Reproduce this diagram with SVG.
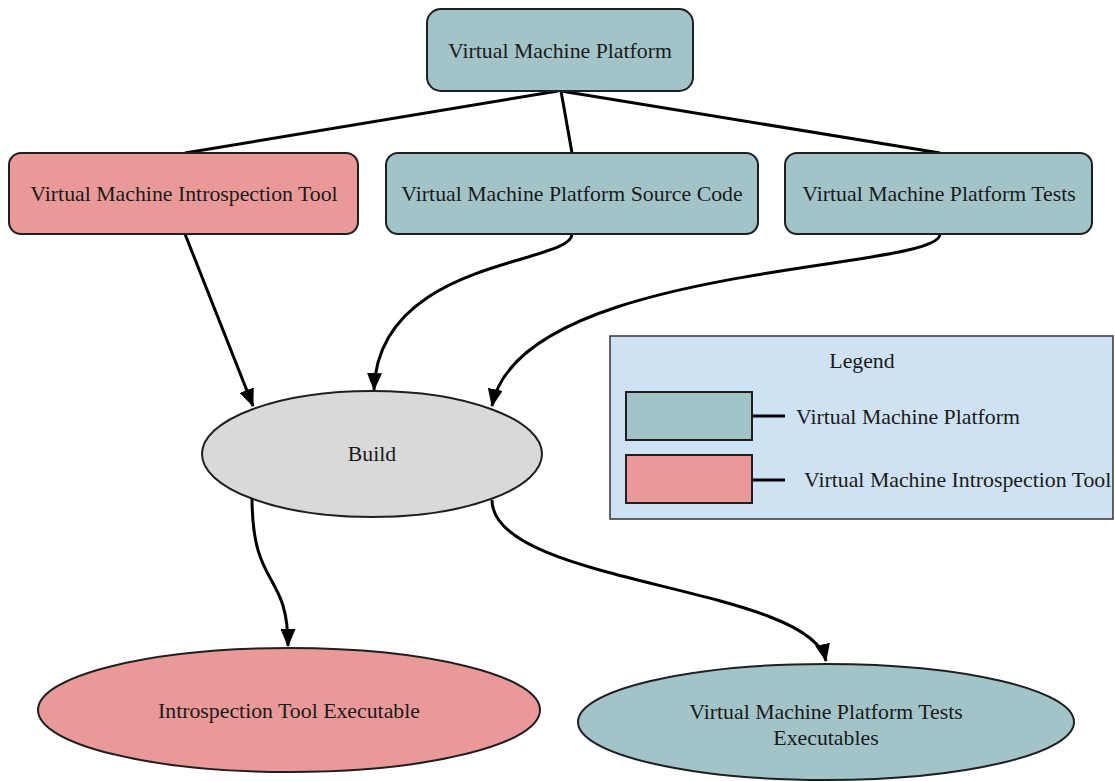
<svg xmlns="http://www.w3.org/2000/svg" width="1115" height="781" viewBox="0 0 1115 781">
  <style>
    text { font-family: "Liberation Serif", "Times New Roman", serif; font-size: 21.8px; fill: #1a1a1a; text-anchor: middle; dominant-baseline: central; }
    .node { stroke: #1f1f1f; stroke-width: 2; }
    .teal { fill: #a2c4c9; }
    .pink { fill: #ea9999; }
    .gray { fill: #d9d9d9; }
    .edge { fill: none; stroke: #000; stroke-width: 3; }
    .arrow { marker-end: url(#head); }
    .legend-box { fill: #cfe2f3; stroke: #333; stroke-width: 1.5; }
    .legend-text { text-anchor: start; }
  </style>
  <defs>
    <marker id="head" markerUnits="userSpaceOnUse" markerWidth="18" markerHeight="15" refX="17" refY="7.5" orient="auto">
      <path d="M0,0 L18,7.5 L0,15 Z" fill="#000"/>
    </marker>
  </defs>

  <g id="connectors">
    <line class="edge" x1="558" y1="91" x2="185" y2="153"/>
    <line class="edge" x1="561" y1="91" x2="572" y2="153"/>
    <line class="edge" x1="561" y1="91" x2="940" y2="153"/>
    <path class="edge arrow" d="M185,234 L253,406"/>
    <path class="edge arrow" d="M572,234 C572,265 378,258 374,390"/>
    <path class="edge arrow" d="M940,234 C940,272 520,262 492,406"/>
    <path class="edge arrow" d="M252,497 C252,590 288,570 288,646"/>
    <path class="edge arrow" d="M492,500 C492,585 810,585 826,661"/>
  </g>

  <g id="vm-platform">
    <rect class="node teal" x="427" y="9" width="266" height="82" rx="14"/>
    <text x="560" y="51">Virtual Machine Platform</text>
  </g>
  <g id="introspection-tool">
    <rect class="node pink" x="9" y="153" width="349" height="81" rx="12"/>
    <text x="184" y="194">Virtual Machine Introspection Tool</text>
  </g>
  <g id="platform-source">
    <rect class="node teal" x="386" y="153" width="372" height="81" rx="12"/>
    <text x="572" y="194">Virtual Machine Platform Source Code</text>
  </g>
  <g id="platform-tests">
    <rect class="node teal" x="785" y="153" width="307" height="81" rx="12"/>
    <text x="939" y="194">Virtual Machine Platform Tests</text>
  </g>
  <g id="build">
    <ellipse class="node gray" cx="372" cy="454" rx="170" ry="63"/>
    <text x="372" y="454">Build</text>
  </g>
  <g id="introspection-exe">
    <ellipse class="node pink" cx="289" cy="710" rx="251" ry="62"/>
    <text x="289" y="711">Introspection Tool Executable</text>
  </g>
  <g id="tests-exe">
    <ellipse class="node teal" cx="826" cy="722" rx="248" ry="58"/>
    <text x="826" y="712">Virtual Machine Platform Tests</text>
    <text x="826" y="738">Executables</text>
  </g>

  <g id="legend">
    <rect class="legend-box" x="610" y="336" width="503" height="183"/>
    <text x="862" y="361">Legend</text>
    <rect class="node teal" x="626" y="392" width="126" height="48"/>
    <line x1="752" y1="416" x2="785" y2="416" stroke="#000" stroke-width="3"/>
    <text class="legend-text" x="796" y="417">Virtual Machine Platform</text>
    <rect class="node pink" x="626" y="455" width="126" height="48"/>
    <line x1="752" y1="480" x2="785" y2="480" stroke="#000" stroke-width="3"/>
    <text class="legend-text" x="804" y="480">Virtual Machine Introspection Tool</text>
  </g>
</svg>
